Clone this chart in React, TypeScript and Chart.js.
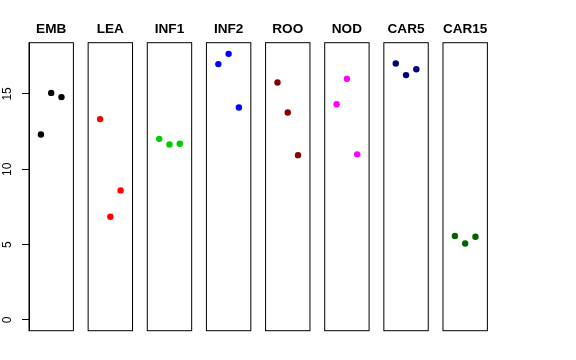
import React, { useEffect, useRef } from "react";
import { Chart, registerables } from "chart.js";
Chart.register(...registerables);

// ---- data ----
const categories = ["EMB", "LEA", "INF1", "INF2", "ROO", "NOD", "CAR5", "CAR15"];
const embValues = [12.31, 15.07, 14.79];
const leaValues = [13.33, 6.85, 8.6];
const inf1Values = [12.02, 11.65, 11.69];
const inf2Values = [16.98, 17.66, 14.1];
const rooValues = [15.76, 13.77, 10.94];
const nodValues = [14.32, 16.0, 10.99];
const car5Values = [17.02, 16.25, 16.64];
const car15Values = [5.57, 5.08, 5.52];
const seriesValues = [embValues, leaValues, inf1Values, inf2Values, rooValues, nodValues, car5Values, car15Values];
const colors = ["#000000", "#FF0000", "#00CD00", "#0000FF", "#8B0000", "#FF00FF", "#000080", "#006400"];
const yTicks = [0, 5, 10, 15];

// ---- layout ----
const Y_MIN = -0.71;
const Y_MAX = 18.4;
const X_MIN = -0.16;
const X_MAX = 4.16;
const PANEL_LEFT0 = 29;
const PANEL_STEP = 59.14;
const PANEL_W = 44.4;
const AREA_TOP = 42.7;
const AREA_BOTTOM = 330.7;
const H = 360;
const FONT = "'Liberation Sans', Arial, Helvetica, sans-serif";

const boxPlugin = {
  id: "panelBox",
  afterDatasetsDraw(chart: any) {
    const { ctx, chartArea } = chart;
    const { left, top, right, bottom } = chartArea;
    ctx.save();
    ctx.strokeStyle = "#000";
    ctx.lineWidth = 1;
    ctx.strokeRect(left, top, right - left, bottom - top);
    ctx.restore();
  },
};

function Panel({ index }: { index: number }) {
  const ref = useRef<HTMLCanvasElement | null>(null);
  const showAxis = index === 0;
  const panelLeft = PANEL_LEFT0 + PANEL_STEP * index;
  const canvasLeft = showAxis ? 0 : Math.floor(panelLeft) - 10;
  const canvasW = showAxis ? 84 : 66;

  useEffect(() => {
    if (!ref.current) return;
    const vals = seriesValues[index];
    const padLeft = showAxis ? 0 : panelLeft - canvasLeft;
    const padRight = canvasW - (panelLeft - canvasLeft) - PANEL_W;
    const yScale: any = {
      type: "linear",
      min: Y_MIN,
      max: Y_MAX,
      display: showAxis,
      afterBuildTicks: (s: any) => {
        s.ticks = yTicks.map((v) => ({ value: v }));
      },
      grid: {
        display: true,
        drawOnChartArea: false,
        drawTicks: true,
        tickLength: 7,
        color: "#000",
        lineWidth: 1,
      },
      border: { display: true, color: "#000" },
      ticks: {
        color: "#000",
        font: { family: FONT, size: 12 },
        minRotation: 90,
        maxRotation: 90,
        crossAlign: "center",
        padding: 7.5,
      },
    };
    if (showAxis) {
      yScale.afterFit = (s: any) => {
        s.width = PANEL_LEFT0;
      };
    }
    const chart = new Chart(ref.current, {
      type: "scatter",
      data: {
        datasets: [
          {
            data: vals.map((v, i) => ({ x: i + 1, y: v })),
            backgroundColor: colors[index],
            borderColor: colors[index],
            pointRadius: 3.2,
            pointBorderWidth: 0,
            pointHoverRadius: 3.2,
          },
        ],
      },
      options: {
        responsive: false,
        animation: false,
        devicePixelRatio: 1,
        events: [],
        layout: { padding: { left: padLeft, right: padRight, top: 0, bottom: H - AREA_BOTTOM } },
        plugins: {
          legend: { display: false },
          tooltip: { enabled: false },
          title: {
            display: true,
            text: categories[index],
            fullSize: false,
            color: "#000",
            font: { family: FONT, size: 13.6, weight: "bold", lineHeight: 1.2 },
            padding: { top: 21.3, bottom: AREA_TOP - 21.3 - 13.6 * 1.2 },
          },
        },
        scales: {
          x: { type: "linear", min: X_MIN, max: X_MAX, display: false },
          y: yScale,
        },
      },
      plugins: [boxPlugin],
    } as any);
    return () => chart.destroy();
  }, [index]);

  return (
    <canvas
      ref={ref}
      width={canvasW}
      height={H}
      style={{ position: "absolute", left: canvasLeft, top: 0, width: canvasW, height: H }}
    />
  );
}

export default function App() {
  return (
    <div style={{ position: "fixed", left: 0, top: 0, width: 576, height: 360, background: "#fff" }}>
      {categories.map((_, i) => (
        <Panel key={i} index={i} />
      ))}
    </div>
  );
}
